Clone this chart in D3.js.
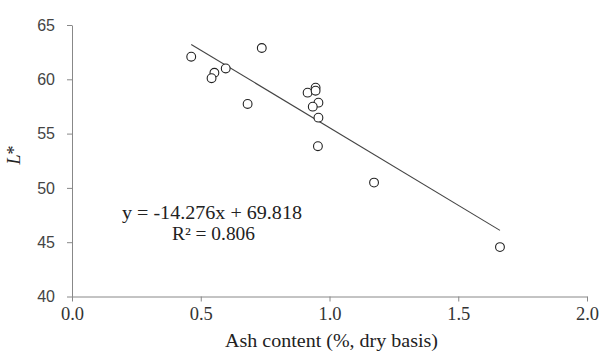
<!DOCTYPE html>
<html>
<head>
<meta charset="utf-8">
<script src="https://cdn.jsdelivr.net/npm/d3@7"></script>
<style>
  body { margin: 0; background: #fff; }
  svg { display: block; }
</style>
</head>
<body>
<div id="plot"></div>
<script>
// ash content (% dry basis) vs L*
var ashValues = [0.463, 0.737, 0.553, 0.542, 0.597, 0.682, 0.915, 0.946, 0.946, 0.957, 0.935, 0.957, 0.955, 1.173, 1.662];
var lValues   = [62.08, 62.88, 60.6, 60.1, 61.0, 57.73, 58.77, 59.23, 58.95, 57.85, 57.48, 56.47, 53.84, 50.49, 44.55];
var xTicks = [0, 0.5, 1.0, 1.5, 2.0];
var yTicks = [40, 45, 50, 55, 60, 65];
var slope = -14.276, intercept = 69.818;

var width = 603, height = 355;
var font = "'Liberation Serif', 'Times New Roman', serif";
var sans = "'Liberation Sans', Arial, sans-serif";

var svg = d3.select("#plot").append("svg")
  .attr("width", width).attr("height", height);

var x = d3.scaleLinear().domain([0, 2]).range([72, 587]);
var y = d3.scaleLinear().domain([40, 65]).range([296.5, 25]);

var xAxis = svg.append("g")
  .attr("transform", "translate(0," + y(40) + ")")
  .call(d3.axisBottom(x).tickValues(xTicks).tickFormat(d3.format(".1f")).tickSize(5).tickSizeOuter(0));
xAxis.select(".domain").attr("stroke", "#888");
xAxis.selectAll(".tick line").attr("stroke", "#888");
xAxis.selectAll("text")
  .attr("font-family", font).attr("font-size", "18.5px").attr("fill", "#333")
  .attr("dy", null).attr("y", 23);

var yAxis = svg.append("g")
  .attr("transform", "translate(" + x(0) + ",0)")
  .call(d3.axisLeft(y).tickValues(yTicks).tickSize(5).tickSizeOuter(0));
yAxis.select(".domain").attr("stroke", "#888");
yAxis.selectAll(".tick line").attr("stroke", "#888");
yAxis.selectAll("text")
  .attr("font-family", sans).attr("font-size", "16px").attr("fill", "#444").attr("x", -17);

// trend line
var xmin = d3.min(ashValues), xmax = d3.max(ashValues);
svg.append("line")
  .attr("x1", x(xmin)).attr("y1", y(slope * xmin + intercept))
  .attr("x2", x(xmax)).attr("y2", y(slope * xmax + intercept))
  .attr("stroke", "#444").attr("stroke-width", 1.1);

svg.selectAll(".pt").data(ashValues).enter().append("circle")
  .attr("class", "pt")
  .attr("cx", function(d){ return x(d); })
  .attr("cy", function(d, i){ return y(lValues[i]); })
  .attr("r", 4.4)
  .attr("fill", "white")
  .attr("stroke", "#222")
  .attr("stroke-width", 1.1);

svg.append("text").attr("x", 122).attr("y", 219)
  .attr("font-family", font).attr("font-size", "18px").attr("fill", "#222")
  .attr("textLength", 180).attr("lengthAdjust", "spacingAndGlyphs")
  .text("y = -14.276x + 69.818");

svg.append("text").attr("x", 172).attr("y", 240)
  .attr("font-family", font).attr("font-size", "18px").attr("fill", "#222")
  .attr("textLength", 83).attr("lengthAdjust", "spacingAndGlyphs")
  .text("R² = 0.806");

svg.append("text").attr("x", 225).attr("y", 347)
  .attr("font-family", font).attr("font-size", "18px").attr("fill", "#222")
  .attr("textLength", 213).attr("lengthAdjust", "spacingAndGlyphs")
  .text("Ash content (%, dry basis)");

svg.append("text")
  .attr("transform", "translate(20," + 155 + ") rotate(-90)")
  .attr("text-anchor", "middle")
  .attr("font-family", font).attr("font-size", "18px").attr("fill", "#222")
  .html("<tspan font-style='italic'>L</tspan>*");
</script>
</body>
</html>
